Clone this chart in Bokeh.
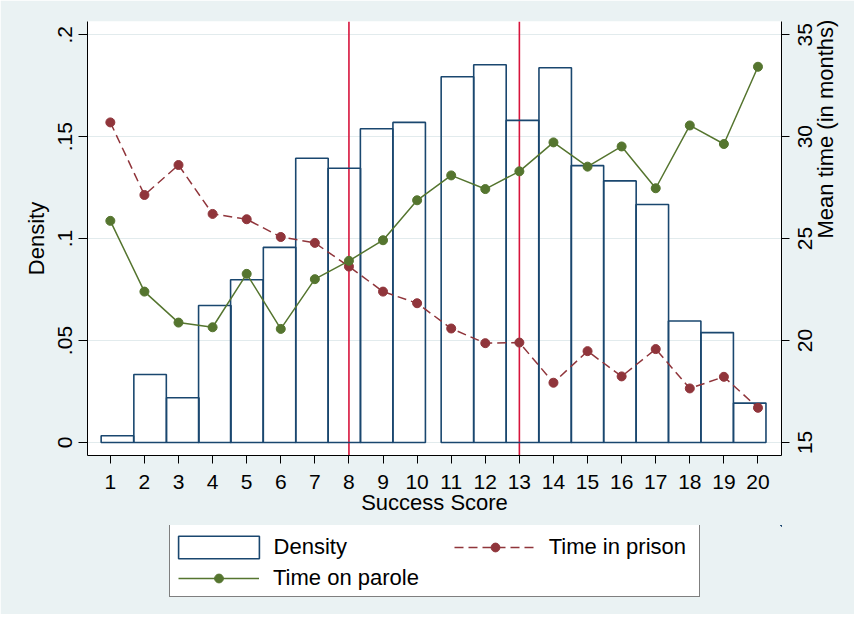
import math
from bokeh.plotting import figure
from bokeh.layouts import column
from bokeh.models import Range1d, LinearAxis, FixedTicker, Span, Legend, LegendItem
from bokeh.embed import file_html
from bokeh.resources import INLINE

# ---------------- data ----------------
scores = list(range(1, 21))
bar_centers = [1.207, 2.166, 3.125, 4.065, 5.004, 5.965, 6.915, 7.864, 8.812, 9.767,
               11.182, 12.137, 13.091, 14.051, 14.996, 15.950, 16.900, 17.849, 18.803, 19.758]
bar_width = 0.953
density = [0.0033, 0.0333, 0.0219, 0.0672, 0.0798, 0.0957, 0.1394, 0.1345, 0.1539, 0.1570,
           0.1794, 0.1853, 0.1580, 0.1838, 0.1358, 0.1283, 0.1167, 0.0596, 0.0539, 0.0193]
time_in_prison = [30.70, 27.14, 28.61, 26.21, 25.95, 25.08, 24.79, 23.63, 22.40, 21.83,
                  20.59, 19.87, 19.90, 17.93, 19.48, 18.24, 19.58, 17.65, 18.22, 16.70]
time_on_parole = [25.87, 22.40, 20.88, 20.65, 23.27, 20.57, 23.01, 23.91, 24.92, 26.88,
                  28.10, 27.43, 28.30, 29.72, 28.53, 29.52, 27.47, 30.55, 29.64, 33.43]
cutoffs = [8, 13]
density_ticks = [0, 0.05, 0.1, 0.15, 0.2]
density_tick_labels = ["0", ".05", ".1", ".15", ".2"]
time_ticks = [15, 20, 25, 30, 35]
time_tick_labels = ["15", "20", "25", "30", "35"]

# ---------------- style ----------------
FONT = "Liberation Sans"
NAVY = "#1A476F"
MAROON = "#90353B"
GREEN = "#55752F"
CUT = "#D7143C"
BG = "#EAF2F3"
GRID = "#E2EBED"
W = 854

y_lo, y_hi = -0.0064, 0.2065
p = figure(width=W, height=526, title=None,
           x_range=Range1d(0.33, 20.69), y_range=Range1d(y_lo, y_hi),
           output_backend="svg", toolbar_location=None,
           min_border_left=87, min_border_right=73, min_border_top=21, min_border_bottom=71)
p.extra_y_ranges = {"time": Range1d(15 + 100 * y_lo, 15 + 100 * y_hi)}
p.border_fill_color = BG
p.background_fill_color = "white"
p.outline_line_color = None

p.xgrid.visible = False
p.ygrid.grid_line_color = GRID
p.ygrid.grid_line_width = 1

for c in cutoffs:
    p.add_layout(Span(location=c, dimension="height", line_color=CUT, line_width=1.6, level="underlay"))

bar_style = dict(fill_color=None, line_color=NAVY, line_width=1.6)
prison_line = dict(line_color=MAROON, line_width=1.5, line_dash="9 5")
prison_pts = dict(size=9, fill_color=MAROON, line_color=MAROON)
parole_line = dict(line_color=GREEN, line_width=1.5)
parole_pts = dict(size=9, fill_color=GREEN, line_color=GREEN)

p.vbar(x=bar_centers, width=bar_width, top=density, bottom=0, **bar_style)
p.line(scores, time_in_prison, y_range_name="time", **prison_line)
p.scatter(scores, time_in_prison, y_range_name="time", **prison_pts)
p.line(scores, time_on_parole, y_range_name="time", **parole_line)
p.scatter(scores, time_on_parole, y_range_name="time", **parole_pts)

def style_axis(ax, tick_out, standoff, label_standoff):
    ax.axis_line_color = "black"
    ax.axis_line_width = 1
    ax.major_tick_line_color = "black"
    ax.major_tick_out = tick_out
    ax.major_tick_in = 0
    ax.minor_tick_line_color = None
    ax.major_label_text_font = FONT
    ax.major_label_text_font_size = "21px"
    ax.major_label_text_color = "black"
    ax.major_label_standoff = standoff
    ax.axis_label_text_font = FONT
    ax.axis_label_text_font_size = "22px"
    ax.axis_label_text_font_style = "normal"
    ax.axis_label_text_color = "black"
    ax.axis_label_standoff = label_standoff

xa = p.xaxis[0]
xa.ticker = FixedTicker(ticks=scores)
xa.axis_label = "Success Score"
style_axis(xa, 8, 11, -2)

ya = p.yaxis[0]
ya.ticker = FixedTicker(ticks=density_ticks)
ya.major_label_overrides = dict(zip(density_ticks, density_tick_labels))
ya.axis_label = "Density"
ya.major_label_orientation = "vertical"
style_axis(ya, 9, 6, 7)

# right axis: tick marks (minor ticks at the values) and labels reading bottom-to-top,
# centred on the ticks (label anchors shifted by half a label length)
half_label = 11.68 / 20.4   # half the rendered label length, in axis units
label_pos = [round(t - half_label, 4) for t in time_ticks]
rb = LinearAxis(y_range_name="time", axis_label="Mean time (in months)",
                ticker=FixedTicker(ticks=label_pos, minor_ticks=time_ticks))
rb.major_label_overrides = dict(zip(label_pos, time_tick_labels))
style_axis(rb, 8, 16, 3)
rb.major_tick_line_color = None
rb.minor_tick_line_color = "black"
rb.minor_tick_out = 8
rb.minor_tick_in = 0
rb.major_label_orientation = math.pi / 2
rb.axis_label_orientation = math.pi / 2
p.add_layout(rb, "right")

# ---------------- legend strip ----------------
lf = figure(width=W, height=89, title=None, x_range=Range1d(-2, -1), y_range=Range1d(-2, -1),
            x_axis_type=None, y_axis_type=None, output_backend="svg", toolbar_location=None,
            min_border_left=87, min_border_right=73, min_border_top=0, min_border_bottom=0)
lf.margin = (-1, 0, 0, 0)
lf.border_fill_color = BG
lf.background_fill_color = BG
lf.outline_line_color = BG
lf.outline_line_width = 3
lf.xgrid.visible = False
lf.ygrid.visible = False

# proxy renderers (outside the strip's ranges, used only for legend swatches)
g_bars = lf.vbar(x=bar_centers, width=bar_width, top=density, bottom=0, **bar_style)
g_pl = lf.line(scores, time_in_prison, **prison_line)
g_ps = lf.scatter(scores, time_in_prison, **prison_pts)
g_gl = lf.line(scores, time_on_parole, **parole_line)
g_gs = lf.scatter(scores, time_on_parole, **parole_pts)
g_none = lf.line(scores, time_on_parole, line_alpha=0)

def make_legend(items, loc, gw, gh, standoff, boxed=False):
    lg = Legend(items=items, location=loc, glyph_width=gw, glyph_height=gh,
                label_standoff=standoff, padding=0, spacing=0, margin=0,
                label_text_font=FONT, label_text_font_size="22px", label_text_color="black")
    if boxed:
        lg.border_line_color = "black"
        lg.border_line_width = 1
        lg.background_fill_color = "white"
        lg.background_fill_alpha = 1
    else:
        lg.border_line_color = None
        lg.background_fill_alpha = 0
    return lg

box = make_legend([LegendItem(label=" ", renderers=[g_none])], (81.7, 17), 1, 71, 0, boxed=True)
box.label_width = 528
box.label_height = 71
lf.add_layout(box, "center")
lf.add_layout(make_legend([LegendItem(label="Density", renderers=[g_bars])], (80.6, 53.5), 101, 28, 5), "center")
lf.add_layout(make_legend([LegendItem(label="Time in prison", renderers=[g_pl, g_ps])], (366.7, 53.7), 82, 22, 13), "center")
lf.add_layout(make_legend([LegendItem(label="Time on parole", renderers=[g_gl, g_gs])], (91, 22.7), 81, 22, 14), "center")

layout = column(p, lf, spacing=0)
open("out.html", "w").write(file_html(layout, INLINE))
